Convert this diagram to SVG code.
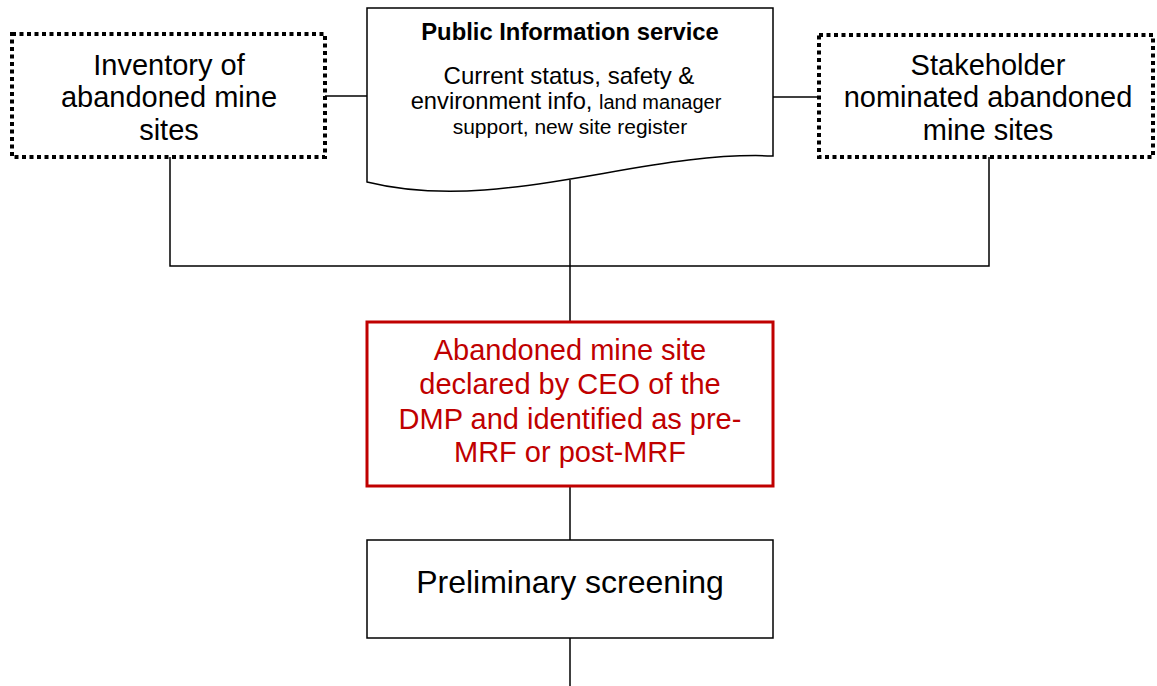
<svg xmlns="http://www.w3.org/2000/svg" width="1157" height="686" viewBox="0 0 1157 686">
<style>
text{font-family:"Liberation Sans",Arial,sans-serif;text-anchor:middle;fill:#000}
.big{font-size:29px}
.dot{fill:#fff;stroke:#000;stroke-width:4;stroke-dasharray:4 3.5}
.box{fill:#fff;stroke:#000;stroke-width:1.5}
.red{fill:#fff;stroke:#C00000;stroke-width:3}
.redt{fill:#C00000;font-size:29px}
.ln{fill:none;stroke:#000;stroke-width:1.5}
</style>
<rect width="1157" height="686" fill="#fff"/>
<g id="connectors">
<path class="ln" d="M325,96 H367"/>
<path class="ln" d="M773,97 H819"/>
<path class="ln" d="M170,157 V266 H989 V157"/>
<path class="ln" d="M570,180 V322"/>
<path class="ln" d="M570,486 V540"/>
<path class="ln" d="M570,638 V686"/>
</g>
<g id="inventory">
<rect class="dot" x="12" y="34" width="313" height="123"/>
<text class="big" x="169" y="75">Inventory of</text>
<text class="big" x="169" y="107">abandoned mine</text>
<text class="big" x="169" y="140">sites</text>
</g>
<g id="public-info">
<path class="box" d="M367,8 H773 V156 C640,150 500,215 367,182 Z"/>
<text x="570" y="40" style="font-size:23.8px;font-weight:bold">Public Information service</text>
<text x="569" y="84" style="font-size:24px">Current status, safety &amp;</text>
<text x="566" y="109" style="font-size:23.7px">environment info, <tspan style="font-size:20px">land manager</tspan></text>
<text x="570" y="134" style="font-size:21px">support, new site register</text>
</g>
<g id="stakeholder">
<rect class="dot" x="819" y="35" width="334" height="122"/>
<text class="big" x="988" y="75">Stakeholder</text>
<text class="big" x="988" y="107">nominated abandoned</text>
<text class="big" x="988" y="140">mine sites</text>
</g>
<g id="declared">
<rect class="red" x="367" y="322" width="406" height="164"/>
<text class="redt" x="570" y="360">Abandoned mine site</text>
<text class="redt" x="570" y="394">declared by CEO of the</text>
<text class="redt" x="570" y="429">DMP and identified as pre-</text>
<text class="redt" x="570" y="462">MRF or post-MRF</text>
</g>
<g id="screening">
<rect class="box" x="367" y="540" width="406" height="98"/>
<text x="570" y="593" style="font-size:32px">Preliminary screening</text>
</g>
</svg>
